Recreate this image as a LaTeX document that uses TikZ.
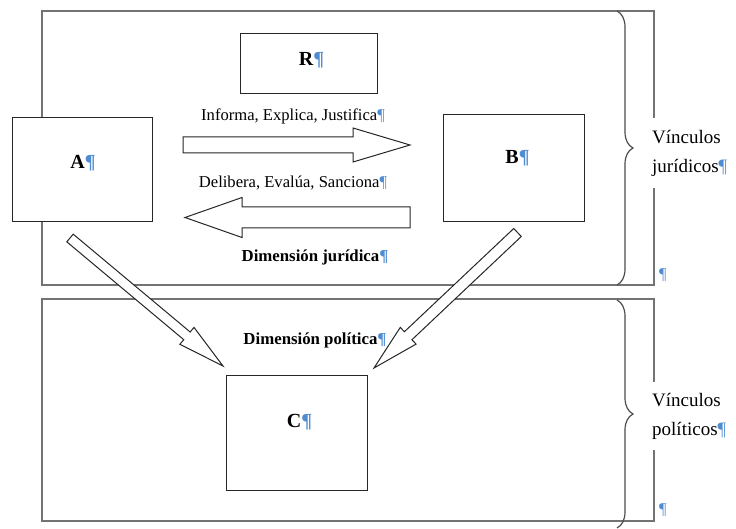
\documentclass[tikz,border=0pt]{standalone}
\usepackage{fontspec}
\setmainfont{Liberation Serif}
\usepackage{xcolor}
\usepackage{tikz}
\tikzset{>=latex}
\usetikzlibrary{calc, decorations.pathreplacing}

\definecolor{markblue}{RGB}{80,140,210}
\newcommand{\pil}{\textcolor{markblue}{\P}}

\tikzset{
  frame/.style={draw=black!55, line width=1.6pt},
  actor/.style={draw=black!85, fill=white, line width=1pt, inner sep=0pt},
  actorlabel/.style={font=\fontsize{20}{24}\selectfont\bfseries},
  flowtext/.style={font=\fontsize{16.6}{19}\selectfont},
  dimtext/.style={font=\fontsize{16.8}{19}\selectfont\bfseries},
  linktext/.style={font=\fontsize{19}{29}\selectfont, align=left, anchor=west, fill=white, inner sep=1pt},
  blockarrow/.style={draw=black!85, fill=white, line width=1pt, line join=miter},
  linkbrace/.style={draw=black!70, line width=1.2pt, decorate, decoration={brace, amplitude=16pt}}
}

% block arrow: tail, tip, half body, half head, head length
\newcommand{\blockarrow}[5]{%
  \coordinate (h) at ($(#2)!#5!(#1)$);
  \draw[blockarrow] ($(#1)!#3!90:(#2)$) -- ($(h)!#3!90:(#2)$) -- ($(h)!#4!90:(#2)$) -- (#2)
    -- ($(h)!#4!-90:(#2)$) -- ($(h)!#3!-90:(#2)$) -- ($(#1)!#3!-90:(#2)$) -- cycle;
}

\begin{document}
\begin{tikzpicture}[x=1pt, y=-1pt]
    \useasboundingbox (0,0) rectangle (736,529);

    % Frames
    \draw[frame] (42,11) rectangle (654,285);
    \draw[frame] (42,299) rectangle (654,521);

    \node[linktext, minimum height=70pt] (vjur) at (651,153) {Vínculos\\jurídicos\pil};
    \node[linktext, minimum height=68pt] (vpol) at (651,416) {Vínculos\\políticos\pil};

    \draw[linkbrace] (617,11) -- (617,285);
    \draw[linkbrace] (617,300) -- (617,528);
    \node[flowtext] (jurpil) at (663,275) {\pil};
    \node[flowtext] (polpil) at (663,510) {\pil};

    % Actors
    \node[actor, minimum width=140pt, minimum height=104pt] (A) at (82,170) {};
    \node[actor, minimum width=137pt, minimum height=60pt] (R) at (308.5,64) {};
    \node[actor, minimum width=141pt, minimum height=107pt] (B) at (513.5,168.5) {};
    \node[actor, minimum width=141pt, minimum height=115pt] (C) at (296.5,432.5) {};

    \node[actorlabel] (Alabel) at ($(A.center)+(1,-7)$) {A\pil};
    \node[actorlabel] (Rlabel) at ($(R.center)+(3,-4)$) {R\pil};
    \node[actorlabel] (Blabel) at ($(B.center)+(4,-10)$) {B\pil};
    \node[actorlabel] (Clabel) at ($(C.center)+(3,-10)$) {C\pil};

    % Arrows
    \coordinate (infa) at (183,145);
    \coordinate (infb) at (410,145);
    \coordinate (dela) at (410,217.5);
    \coordinate (delb) at (185,217.5);
    \coordinate (jura) at (70,238);
    \coordinate (jurb) at (223,366);
    \coordinate (pola) at (517.5,232.5);
    \coordinate (polb) at (374,368);

    \blockarrow{infa}{infb}{8pt}{17pt}{57pt}
    \blockarrow{dela}{delb}{10.5pt}{20pt}{57pt}
    \blockarrow{jura}{jurb}{5pt}{11pt}{47pt}
    \blockarrow{pola}{polb}{5.5pt}{11.5pt}{47pt}

    % Texts
    \node[flowtext] (informa) at (293,116) {Informa, Explica, Justifica\pil};
    \node[flowtext] (delibera) at (293,183) {Delibera, Evalúa, Sanciona\pil};
    \node[dimtext] (dimjur) at (315,257) {Dimensión jurídica\pil};
    \node[dimtext] (dimpol) at (315,340) {Dimensión política\pil};

\end{tikzpicture}
\end{document}
